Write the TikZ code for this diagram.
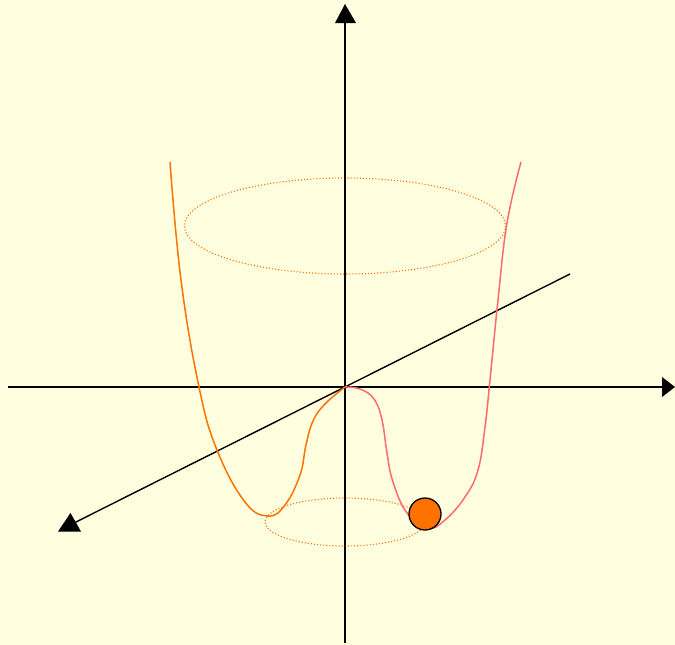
\documentclass[tikz,border=0pt]{standalone}
\usetikzlibrary{calc}
\definecolor{bg}{HTML}{FFFFE0}
\definecolor{lorange}{HTML}{FF7200}
\definecolor{rsalmon}{HTML}{FF6A6A}
\begin{document}
\begin{tikzpicture}[x=1pt,y=-1pt,
  axis/.style={black,line width=1.4pt},
  tip/.style={fill=black},
  orb/.style={lorange,line width=1.1pt,dotted},
  curveL/.style={lorange,line width=1.5pt},
  curveR/.style={rsalmon,line width=1.5pt}]
\fill[bg] (0,0) rectangle (675,645);
\useasboundingbox (0,0) rectangle (675,645);
\coordinate (O) at (345,387);
\coordinate (top) at (345,20);
\coordinate (bot) at (345,643);
\coordinate (left) at (8,387);
\coordinate (right) at (664,387);
\coordinate (dA) at (570,274);
\coordinate (dB) at (72,524);
% orbits
\draw[orb] (345,226) ellipse [x radius=160.5, y radius=48];
\draw[orb] (345,522) ellipse [x radius=80, y radius=24];
% axes
\draw[axis] (bot) -- (top);
\draw[axis] (left) -- (right);
\draw[axis] (dA) -- (dB);
\fill[tip] (335,23) -- (356,23) -- (345,4) -- cycle;
\fill[tip] (662,377) -- (662,397) -- (675,387) -- cycle;
\fill[tip] (58,531.5) -- (81,531.5) -- (70.5,513) -- cycle;
% potential curve
\draw[curveL] plot[smooth,tension=0.7] coordinates {(170,162) (181,280) (199,387) (217,450) (245,502) (268,516) (285,505) (300,475) (306,445) (313,421) (325,404) (345,387)};
\draw[curveR] plot[smooth,tension=0.7] coordinates {(345,387) (360,389) (374,399) (382,420) (387,453) (393,482) (407,513) (428,528) (445,520) (465,497) (478,470) (485,427) (490,380) (498,300) (507,223) (521,162)};
% ball
\node[circle,draw=black,line width=1.3pt,fill=lorange,minimum size=32pt,inner sep=0pt] (ball) at (425,514) {};
\end{tikzpicture}
\end{document}
